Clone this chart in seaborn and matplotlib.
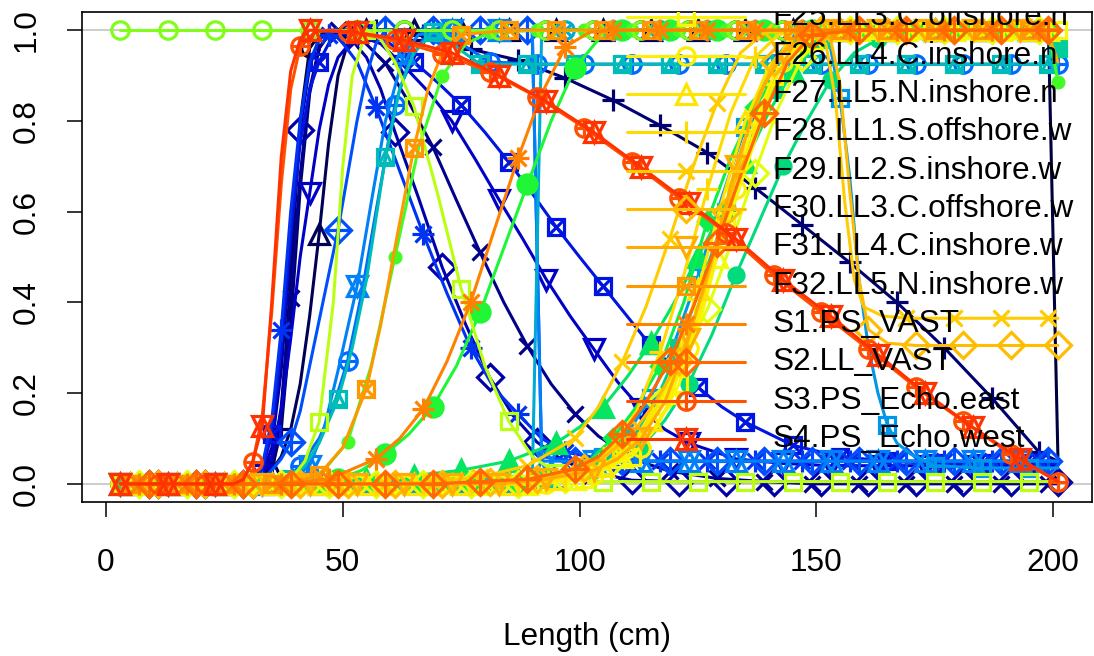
import numpy as np
import pandas as pd
import seaborn as sns
import matplotlib.pyplot as plt

# ---------------- Data: length-based selectivity by fleet ----------------
# each fleet: (length cm, selectivity) knots
F01 = [(3,0),(13,0),(23,0),(33,0),(35,.02),(37,.15),(39,.45),(41,.8),(43,.96),(45,.99),(47,1),(53,1),(63,1),(73,1),(83,1),(93,1),(103,1),(113,1),(123,1),(133,1),(143,1),(153,1),(163,1),(173,1),(183,1),(193,1),(199,1),(201,.06)]
F02 = [(3,0),(5,0),(15,0),(25,0),(33,0),(35,.03),(37,.06),(39,.12),(41,.22),(43,.37),(45,.55),(47,.75),(49,.9),(51,.97),(53,.99),(55,1),(65,1),(75,1),(85,1),(95,1),(105,1),(115,1),(125,1),(135,1),(145,1),(155,1),(165,1),(175,1),(185,1),(195,1),(201,1)]
F03 = [(3,0),(7,0),(17,0),(27,0),(33,0),(35,.03),(37,.12),(39,.35),(41,.65),(43,.86),(45,.96),(47,.99),(49,1),(57,1),(63,.998),(67,.99),(77,.958),(87,.934),(97,.894),(107,.846),(117,.79),(127,.73),(137,.653),(147,.571),(157,.488),(167,.40),(177,.30),(187,.19),(197,.07),(201,.05)]
F04 = [(3,0),(9,0),(19,0),(29,0),(33,0),(35,.04),(37,.17),(39,.41),(41,.68),(43,.87),(45,.96),(47,.99),(49,1),(53,.99),(59,.927),(64,.84),(69,.743),(74,.625),(79,.51),(84,.40),(89,.303),(94,.22),(99,.155),(104,.105),(109,.07),(114,.045),(119,.028),(129,.012),(139,.005),(149,0),(159,0),(169,0),(179,0),(189,0),(199,0),(201,0)]
F05 = [(3,0),(11,0),(21,0),(31,0),(33,.02),(35,.08),(37,.25),(39,.52),(41,.78),(43,.92),(45,.98),(47,1),(51,.99),(55,.94),(58,.87),(61,.776),(66,.63),(71,.477),(76,.35),(81,.235),(86,.15),(91,.092),(96,.055),(101,.03),(111,.008),(121,.005),(131,.005),(141,.005),(151,.005),(161,.005),(171,.005),(181,.005),(191,.005),(201,.005)]
F06 = [(3,0),(13,0),(23,0),(31,0),(33,.02),(35,.06),(37,.16),(39,.32),(41,.5),(43,.64),(45,.78),(47,.88),(49,.94),(53,.99),(58,.97),(63,.92),(68,.865),(73,.80),(78,.715),(83,.626),(88,.54),(93,.45),(98,.37),(103,.297),(108,.225),(113,.165),(118,.12),(123,.09),(133,.055),(143,.045),(153,.04),(163,.04),(173,.04),(183,.04),(193,.04),(201,.04)]
F07 = [(3,0),(5,0),(15,0),(25,0),(31,0),(33,.03),(35,.11),(37,.3),(39,.55),(41,.75),(43,.87),(45,.93),(47,.97),(49,.99),(55,1),(60,.97),(65,.93),(70,.885),(75,.835),(80,.775),(85,.71),(90,.64),(95,.567),(100,.5),(105,.435),(110,.37),(115,.305),(120,.255),(125,.213),(130,.17),(135,.136),(145,.085),(155,.06),(165,.05),(175,.045),(185,.045),(195,.045),(201,.045)]
F08 = [(3,0),(7,0),(17,0),(27,0),(31,0),(33,.04),(35,.14),(37,.34),(39,.6),(41,.8),(43,.93),(45,.98),(47,.99),(49,.985),(53,.93),(57,.83),(62,.69),(67,.55),(72,.42),(77,.30),(82,.21),(87,.154),(92,.1),(97,.07),(107,.05),(117,.05),(127,.05),(137,.05),(147,.05),(157,.05),(167,.05),(177,.05),(187,.05),(197,.05),(201,.05)]
F09 = [(3,0),(9,0),(19,0),(29,0),(33,.01),(35,.03),(37,.055),(39,.092),(41,.16),(43,.26),(45,.36),(47,.46),(49,.56),(51,.68),(53,.8),(55,.9),(57,.97),(59,1),(69,1),(79,1),(89,1),(90,1),(92,.06),(99,.05),(109,.05),(119,.05),(129,.05),(139,.05),(149,.05),(159,.05),(169,.05),(179,.05),(189,.05),(199,.05),(201,.05)]
F10 = [(3,0),(11,0),(21,0),(31,0),(37,0),(41,.04),(45,.1),(48,.17),(51,.27),(54,.42),(57,.6),(61,.835),(64,.93),(67,.98),(71,.99),(75,.97),(81,.93),(91,.925),(101,.925),(111,.925),(121,.925),(131,.925),(141,.925),(151,.925),(161,.925),(171,.925),(181,.925),(191,.925),(201,.925)]
F11 = [(3,0),(13,0),(23,0),(33,0),(39,.01),(43,.04),(46,.12),(49,.25),(53,.435),(56,.62),(59,.8),(63,.95),(66,.99),(73,1),(83,1),(90,1),(92,.05),(93,.05),(103,.05),(113,.05),(123,.05),(133,.05),(143,.05),(153,.05),(163,.05),(173,.05),(183,.05),(193,.05),(201,.05)]
F12 = [(3,0),(5,0),(15,0),(25,0),(35,0),(45,0),(55,0),(65,0),(75,0),(85,0),(95,.01),(100,.03),(105,.06),(110,.11),(115,.19),(120,.31),(125,.457),(130,.63),(135,.787),(140,.92),(145,.985),(150,1),(153,.96),(155,.85),(157,.68),(159,.45),(161,.3),(163,.2),(165,.13),(167,.09),(170,.065),(175,.04),(185,.035),(195,.035),(201,.035)]
F13 = [(3,0),(7,0),(17,0),(27,0),(37,0),(47,0),(57,0),(67,0),(77,0),(87,0),(90,0),(92,1),(97,1),(107,1),(117,1),(127,1),(137,1),(147,1),(157,1),(167,1),(177,1),(187,1),(197,1),(201,1)]
F14 = [(3,0),(9,0),(19,0),(29,0),(35,0),(39,.01),(42,.04),(45,.09),(49,.187),(52,.3),(55,.45),(59,.72),(62,.87),(65,.95),(69,.995),(72,.985),(75,.955),(79,.925),(89,.925),(99,.925),(109,.925),(119,.925),(129,.925),(139,.925),(149,.925),(159,.925),(169,.925),(179,.925),(189,.925),(199,.925),(201,.925)]
F15 = [(3,0),(11,0),(21,0),(31,0),(41,0),(51,0),(61,0),(71,0),(81,0),(91,.01),(101,.03),(106,.055),(111,.1),(116,.18),(121,.3),(126,.45),(131,.6),(136,.75),(141,.87),(146,.94),(151,.98),(161,1),(171,1),(181,1),(191,1),(199,1),(201,.96)]
F16 = [(3,0),(13,0),(23,0),(33,0),(43,0),(53,0),(63,0),(73,0),(83,0),(93,.01),(103,.03),(108,.05),(113,.08),(118,.14),(123,.22),(128,.33),(133,.46),(138,.58),(143,.7),(148,.8),(153,.89),(158,.95),(163,.98),(173,1),(183,1),(193,1),(201,1)]
F17 = [(3,0),(5,0),(15,0),(25,0),(35,0),(45,0),(55,.01),(65,.018),(75,.03),(85,.05),(95,.09),(100,.125),(105,.17),(110,.235),(115,.31),(120,.4),(125,.5),(130,.6),(135,.71),(140,.82),(145,.91),(150,.97),(155,1),(165,1),(175,1),(185,1),(195,1),(201,1)]
F18 = [(3,0),(7,0),(17,0),(27,0),(37,0),(47,0),(57,0),(67,0),(77,0),(87,0),(97,.02),(102,.05),(107,.1),(112,.17),(117,.26),(122,.4),(127,.58),(132,.72),(137,.83),(142,.91),(147,.97),(152,.99),(157,1),(167,1),(177,1),(187,1),(197,1),(201,1)]
F19 = [(3,0),(9,0),(19,0),(29,0),(39,0),(49,.01),(54,.03),(59,.066),(64,.11),(69,.17),(74,.26),(79,.378),(84,.52),(89,.66),(94,.8),(99,.916),(104,.98),(109,1),(119,1),(129,1),(139,1),(149,1),(159,1),(169,1),(179,1),(189,1),(199,1),(201,1)]
F20 = [(3,0),(11,0),(21,0),(31,0),(41,0),(46,.03),(51,.092),(56,.26),(61,.5),(66,.74),(71,.9),(76,.97),(81,.995),(91,1),(101,1),(111,1),(121,1),(131,1),(141,1),(151,1),(161,1),(171,1),(181,1),(191,1),(199,1),(201,.886)]
F21 = [(3,1),(13,1),(23,1),(33,1),(43,1),(53,1),(63,1),(73,1),(83,1),(93,1),(103,1),(113,1),(123,1),(133,1),(143,1),(153,1),(163,1),(173,1),(183,1),(193,1),(201,1)]
F22 = [(3,0),(5,0),(15,0),(25,0),(35,0),(39,.01),(42,.05),(45,.136),(48,.4),(50,.7),(52,.9),(55,1),(58,.98),(61,.93),(65,.833),(70,.64),(75,.43),(80,.26),(85,.139),(90,.06),(95,.025),(100,.01),(105,.005),(115,.005),(125,.005),(135,.005),(145,.005),(155,.005),(165,.005),(175,.005),(185,.005),(195,.005),(201,.005)]
F23 = [(3,0),(7,0),(17,0),(27,0),(37,0),(47,0),(57,0),(67,0),(77,0),(87,0),(97,.01),(107,.05),(112,.1),(117,.18),(122,.28),(127,.385),(132,.53),(137,.686),(142,.83),(147,.94),(152,.99),(157,1),(167,1),(177,1),(187,1),(197,1),(201,1)]
F24 = [(3,0),(9,0),(19,0),(29,0),(39,0),(49,0),(59,0),(69,0),(79,0),(89,0),(99,.01),(109,.06),(114,.12),(119,.2),(124,.33),(129,.5),(134,.66),(139,.82),(144,.93),(149,.98),(159,1),(169,1),(179,1),(189,1),(199,1),(201,1)]
F25 = [(3,0),(11,0),(21,0),(31,0),(41,0),(51,0),(61,0),(71,0),(81,0),(91,0),(101,.01),(111,.06),(116,.12),(121,.22),(126,.38),(131,.58),(136,.77),(141,.9),(146,.97),(151,1),(161,1),(171,1),(181,1),(191,1),(201,1)]
F26 = [(3,0),(13,0),(23,0),(33,0),(43,0),(53,0),(63,0),(73,0),(83,0),(93,0),(103,.02),(113,.08),(118,.16),(123,.3),(128,.47),(133,.65),(138,.81),(143,.93),(148,.98),(153,1),(163,1),(173,1),(183,1),(193,1),(201,1)]
F27 = [(3,0),(5,0),(15,0),(25,0),(35,0),(45,0),(55,0),(65,0),(75,0),(85,0),(95,.01),(105,.04),(110,.08),(115,.14),(120,.26),(125,.43),(130,.62),(135,.8),(140,.92),(145,.98),(155,1),(165,1),(175,1),(185,1),(195,1),(201,1)]
F28 = [(3,0),(7,0),(17,0),(27,0),(37,0),(47,0),(57,0),(67,0),(77,0),(87,0),(97,.02),(102,.045),(107,.08),(112,.16),(117,.29),(122,.46),(127,.65),(132,.82),(137,.94),(142,.99),(147,1),(157,1),(167,1),(177,1),(187,1),(197,1),(201,1)]
F29 = [(3,0),(9,0),(19,0),(29,0),(39,0),(49,0),(59,0),(69,.005),(79,.015),(89,.04),(94,.07),(99,.1),(104,.17),(109,.268),(114,.39),(119,.54),(124,.7),(129,.84),(134,.95),(139,.995),(149,1),(152,.97),(154,.85),(156,.62),(158,.45),(160,.39),(164,.37),(169,.365),(179,.365),(189,.365),(199,.365),(201,.365)]
F30 = [(3,0),(11,0),(21,0),(31,0),(41,0),(51,0),(61,0),(71,0),(81,.005),(91,.01),(101,.035),(106,.065),(111,.11),(116,.18),(121,.27),(126,.42),(131,.6),(136,.8),(141,.93),(146,.99),(151,1),(153,.98),(155,.88),(157,.65),(159,.45),(161,.34),(165,.31),(171,.305),(181,.305),(191,.305),(201,.305)]
F31 = [(3,0),(13,0),(23,0),(33,0),(43,0),(53,0),(63,0),(73,0),(83,0),(93,.01),(103,.03),(108,.055),(113,.1),(118,.18),(123,.32),(128,.5),(133,.7),(138,.86),(143,.95),(148,.99),(153,1),(163,1),(173,1),(183,1),(193,1),(197,1),(199,.99),(201,.93)]
F32 = [(3,0),(5,0),(15,0),(25,0),(35,0),(40,.005),(45,.02),(50,.08),(55,.21),(58,.35),(61,.52),(65,.74),(68,.87),(71,.95),(75,.99),(85,1),(95,1),(105,1),(115,1),(125,1),(135,1),(145,1),(155,1),(165,1),(175,1),(185,1),(195,1),(201,1)]
S1 = [(3,0),(7,0),(17,0),(27,0),(37,0),(47,.01),(57,.055),(62,.1),(67,.165),(72,.27),(77,.40),(82,.56),(87,.718),(92,.86),(97,.963),(102,.995),(107,1),(117,1),(127,1),(137,1),(147,1),(157,1),(167,1),(177,1),(187,1),(197,1),(201,1)]
S2 = [(3,0),(9,0),(19,0),(29,0),(39,0),(49,0),(59,0),(69,0),(79,.005),(89,.01),(99,.033),(104,.06),(109,.11),(114,.18),(119,.27),(124,.39),(129,.53),(134,.68),(139,.817),(144,.93),(149,.99),(159,1),(169,1),(179,1),(189,1),(199,1),(201,1)]
S3 = [(3,0),(11,0),(21,0),(27,0),(29,.01),(31,.048),(33,.15),(35,.38),(37,.66),(39,.87),(41,.965),(44,.995),(47,1),(51,.997),(61,.978),(71,.948),(81,.908),(91,.853),(101,.785),(111,.71),(121,.63),(131,.553),(141,.46),(151,.378),(161,.297),(171,.213),(181,.138),(191,.066),(201,.004)]
S4 = [(3,0),(13,0),(23,0),(27,0),(29,.01),(31,.05),(33,.127),(35,.4),(37,.72),(39,.91),(41,.98),(43,1),(53,.995),(63,.978),(73,.95),(83,.9),(93,.843),(103,.775),(113,.698),(123,.62),(133,.54),(143,.45),(153,.37),(163,.285),(173,.2),(183,.125),(193,.055),(201,.005)]

fleet_names = [
    "F1.GI.1a", "F2.HD.1a", "F3.LL.1a", "F4.OT.1a", "F5.BB.1b", "F6.FS.1b",
    "F7.LL.1b", "F8.LS.1b", "F9.TR.1b", "F10.LL.2", "F11.LL.3", "F12.GI.4",
    "F13.LL.4", "F14.OT.4", "F15.TR.4", "F16.FS.2", "F17.LS.2", "F18.TR.2",
    "F19.FS.4", "F20.LS.4", "F21.LF.4", "F22.GI.5", "F23.LL1.S.offshore.n",
    "F24.LL2.S.inshore.n", "F25.LL3.C.offshore.n", "F26.LL4.C.inshore.n",
    "F27.LL5.N.inshore.n", "F28.LL1.S.offshore.w", "F29.LL2.S.inshore.w",
    "F30.LL3.C.offshore.w", "F31.LL4.C.inshore.w", "F32.LL5.N.inshore.w",
    "S1.PS_VAST", "S2.LL_VAST", "S3.PS_Echo.east", "S4.PS_Echo.west",
]
fleet_curves = [F01, F02, F03, F04, F05, F06, F07, F08, F09, F10, F11, F12,
                F13, F14, F15, F16, F17, F18, F19, F20, F21, F22, F23, F24,
                F25, F26, F27, F28, F29, F30, F31, F32, S1, S2, S3, S4]

x_ticks = [0, 50, 100, 150, 200]
y_ticks = [0.0, 0.2, 0.4, 0.6, 0.8, 1.0]

# ---------------- Style helpers ----------------
def rich_colors(n):
    x = np.linspace(0, 1, n)
    r = 1 / (1 + np.exp(20 - 35 * x))
    g = np.clip(-0.8 + 6 * x - 5 * x ** 2, 0, 1)
    b = np.exp(-0.5 * ((x - 0.25) / 0.15) ** 2)
    b = b / b.max()
    return list(zip(r, g, b))

# R pch symbols built from matplotlib markers: (marker, filled, size factor)
PCH_PARTS = {
    0: [("s", False, 1.0)],
    1: [("o", False, 1.05)],
    2: [("^", False, 1.15)],
    3: [("+", False, 1.3)],
    4: [("x", False, 1.0)],
    5: [("D", False, 1.1)],
    6: [("v", False, 1.15)],
    7: [("s", False, 1.0), ("x", False, 0.95)],
    8: [("+", False, 1.3), ("x", False, 1.0)],
    9: [("D", False, 1.1), ("+", False, 1.45)],
    10: [("o", False, 1.05), ("+", False, 1.05)],
    11: [("^", False, 1.15), ("v", False, 1.15)],
    12: [("s", False, 1.0), ("+", False, 1.0)],
    13: [("o", False, 1.05), ("x", False, 0.75)],
    14: [("s", False, 1.0), ("^", False, 0.75)],
    15: [("s", True, 1.0)],
    16: [("o", True, 0.9)],
    17: [("^", True, 1.15)],
    18: [("D", True, 0.8)],
    19: [("o", True, 1.15)],
    20: [("o", True, 0.65)],
    21: [("o", False, 1.05)],
    22: [("s", False, 1.0)],
    23: [("D", False, 1.1)],
    24: [("^", False, 1.15)],
}
MS = 12
MEW = 2.3
LW = 2.2

def draw_pch(ax, xs, ys, pch, color, z, **kw):
    for mk, filled, sc in PCH_PARTS[pch]:
        ax.plot(xs, ys, ls="none", marker=mk, ms=MS * sc, mew=MEW,
                mec=color, mfc=color if filled else "none", zorder=z, **kw)

# ---------------- Build long table ----------------
rows = []
for name, knots in zip(fleet_names, fleet_curves):
    for length, sel in knots:
        rows.append((name, length, sel))
df = pd.DataFrame(rows, columns=["fleet", "length", "selex"])

n_fleet = len(fleet_names)
colors = rich_colors(n_fleet)
palette = dict(zip(fleet_names, colors))

# ---------------- Plot ----------------
sns.set_theme(style="ticks")
plt.rcParams["font.family"] = ["Liberation Sans", "DejaVu Sans"]
plt.rcParams["text.color"] = "black"
plt.rcParams["axes.labelcolor"] = "black"

fig = plt.figure(figsize=(10.94, 6.56), dpi=100)
ax = fig.add_axes([82 / 1094, 1 - 502 / 656, 1010 / 1094, 490 / 656])

ax.axhline(0, color="#BEBEBE", lw=1.1, zorder=1.5)
ax.axhline(1, color="#BEBEBE", lw=1.1, zorder=1.5)

n_before = len(ax.lines)
sns.lineplot(data=df, x="length", y="selex", hue="fleet", hue_order=fleet_names,
             palette=palette, estimator=None, sort=True, legend=False,
             linewidth=LW, ax=ax)
for i, ln in enumerate(ax.lines[n_before:]):
    ln.set_zorder(2 + i * 0.01)
    ln.set_solid_capstyle("round")

# points every 10 cm, staggered by fleet
for i, (name, knots) in enumerate(zip(fleet_names, fleet_curves)):
    x0 = 3 + 2 * (i % 5)
    pts = [(x, y) for x, y in knots if (x - x0) % 10 == 0]
    xs = [p[0] for p in pts]
    ys = [p[1] for p in pts]
    pch = (i + 1) % 25
    draw_pch(ax, xs, ys, pch, colors[i], 2 + i * 0.01 + 0.005)

# legend overflows the top of the plot region and is clipped at the box
for k, name in enumerate(fleet_names):
    y_px = 17.3 + (k - 24) * 38.35
    ya = (502 - y_px) / 490
    ax.plot([0.5396, 0.6564], [ya, ya], transform=ax.transAxes,
            color=colors[k], lw=LW, zorder=10, clip_on=True)
    draw_pch(ax, [0.598], [ya], (k + 1) % 25, colors[k], 10.5,
             transform=ax.transAxes, clip_on=True)
    ax.text(0.684, ya, name, transform=ax.transAxes, fontsize=22.7,
            ha="left", va="center", color="black", zorder=11, clip_on=True)

ax.set_xlim(-5.07, 208.2)
ax.set_ylim(-0.04, 1.04)
ax.set_xticks(x_ticks)
ax.set_xticklabels([str(t) for t in x_ticks])
ax.set_yticks(y_ticks)
ax.set_yticklabels([f"{t:.1f}" for t in y_ticks], rotation=90, va="center")
ax.tick_params(axis="both", length=10.8, width=1.1, labelsize=22.7,
               colors="black", labelcolor="black", direction="out")
ax.tick_params(axis="x", pad=22)
ax.tick_params(axis="y", pad=18)
for sp in ax.spines.values():
    sp.set_color("black")
    sp.set_linewidth(1.2)

ax.set_xlabel("Length (cm)", fontsize=22.7, va="center", color="black")
ax.xaxis.set_label_coords(0.5, -0.2755)
ax.set_ylabel("")

fig.savefig("out.png", dpi=100)
